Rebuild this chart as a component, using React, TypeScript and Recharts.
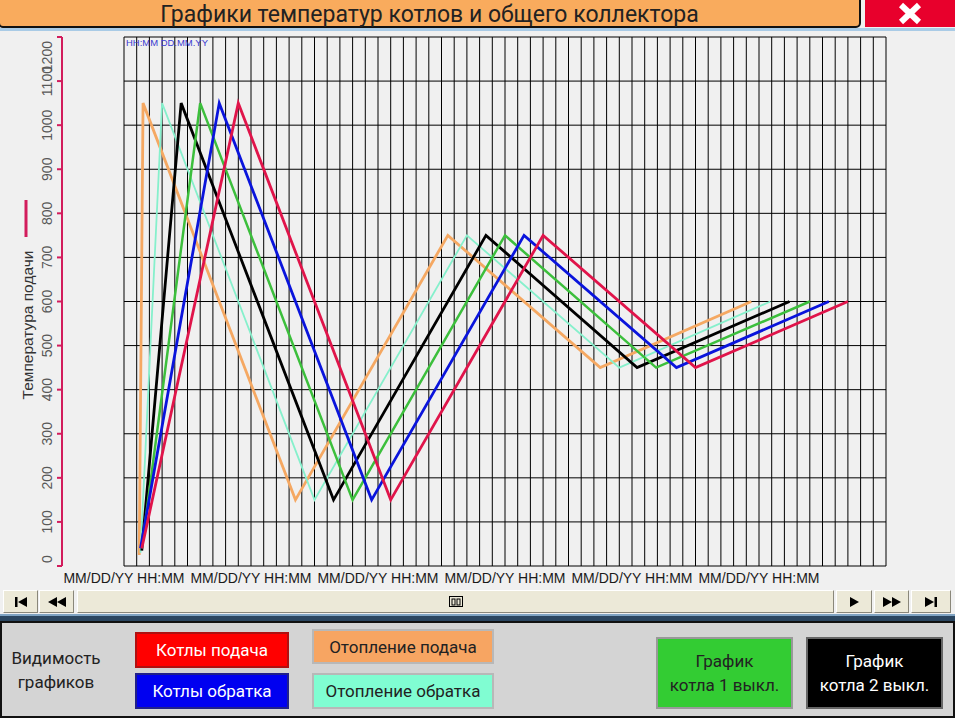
import React from "react";
import { CartesianGrid, Line, LineChart, XAxis, YAxis } from "recharts";

// y axis (temperature) and x axis (time, in grid divisions)
const yTicks = [0, 100, 200, 300, 400, 500, 600, 700, 800, 900, 1000, 1100, 1200];
const xLabelTicks = [0, 10, 20, 30, 40, 50];
const xLabel = "MM/DD/YY HH:MM";
const xGridTicks = Array.from({ length: 61 }, (_, i) => i);

// each trend: time stamps and values
const heatSupplyT = [1.2, 1.5, 13.5, 25.5, 37.5, 49.4];
const heatSupplyV = [25, 1050, 150, 750, 450, 600];
const heatReturnT = [1.3, 3.0, 15.0, 27.0, 39.0, 50.9];
const heatReturnV = [30, 1050, 150, 750, 450, 600];
const boiler2T = [1.4, 4.5, 16.5, 28.5, 40.4, 52.4];
const boiler2V = [35, 1050, 150, 750, 450, 600];
const boiler1T = [1.4, 6.0, 18.0, 30.0, 41.9, 54.0];
const boiler1V = [40, 1050, 150, 750, 450, 600];
const boilerReturnT = [1.3, 7.5, 19.5, 31.5, 43.5, 55.5];
const boilerReturnV = [40, 1050, 150, 750, 450, 600];
const boilerSupplyT = [1.4, 9.0, 21.0, 33.0, 45.0, 57.0];
const boilerSupplyV = [40, 1050, 150, 750, 450, 600];

const toPoints = (t: number[], v: number[]) => t.map((x, i) => ({ t: x, v: v[i] }));

const series = [
  { name: "heatSupply", data: toPoints(heatSupplyT, heatSupplyV), color: "#f5a862", width: 2.8 },
  { name: "heatReturn", data: toPoints(heatReturnT, heatReturnV), color: "#86f0cc", width: 1.8 },
  { name: "boiler2", data: toPoints(boiler2T, boiler2V), color: "#000000", width: 2.8 },
  { name: "boiler1", data: toPoints(boiler1T, boiler1V), color: "#3cbf3c", width: 2.5 },
  { name: "boilerReturn", data: toPoints(boilerReturnT, boilerReturnV), color: "#0a14dc", width: 2.8 },
  { name: "boilerSupply", data: toPoints(boilerSupplyT, boilerSupplyV), color: "#e0144a", width: 2.8 },
];

const CHART_W = 955;
const CHART_H = 590;
const TOP = 37;
const XAXIS_H = 24;
const PLOT_BOTTOM = CHART_H - XAXIS_H;
const PINK = "#d21c5c";
const FONT = "'Liberation Sans', Arial, sans-serif";
const UI_FONT = "Roboto, 'Noto Sans', sans-serif";

function renderYTick(p: any) {
  const { x, y, payload } = p;
  const value = payload.value;
  const ax = x - 62;
  const label = String(value);
  const half = label.length * 3.9;
  const cy = Math.min(Math.max(y, TOP + 4 + half), PLOT_BOTTOM - 3 - half);
  return (
    <g>
      {value === 0 && <line x1={ax} x2={ax} y1={y} y2={TOP} stroke={PINK} strokeWidth={2} />}
      <line x1={ax - 5} x2={ax} y1={y} y2={y} stroke={PINK} strokeWidth={2} />
      <text
        x={ax - 15}
        y={cy}
        transform={`rotate(-90 ${ax - 15} ${cy})`}
        textAnchor="middle"
        dominantBaseline="central"
        fontFamily={FONT}
        fontSize={14}
        fill="#585858"
      >
        {label}
      </text>
    </g>
  );
}

function renderXTick(p: any) {
  const { x, y, payload } = p;
  if (!xLabelTicks.includes(payload.value)) return <g />;
  return (
    <text x={x} y={y + 17} textAnchor="middle" fontFamily={FONT} fontSize={14} fill="#1a1a1a">
      {xLabel}
    </text>
  );
}

function Bevel({ left, width, children }: { left: number; width: number; children: React.ReactNode }) {
  return (
    <div
      style={{
        position: "absolute",
        left,
        top: 590,
        width,
        height: 23,
        boxSizing: "border-box",
        background: "#ece9d8",
        borderTop: "1px solid #fff",
        borderLeft: "1px solid #fff",
        borderRight: "1px solid #8a877a",
        borderBottom: "1px solid #8a877a",
        display: "flex",
        alignItems: "center",
        justifyContent: "center",
      }}
    >
      {children}
    </div>
  );
}

function PanelButton({
  left,
  top,
  width,
  height,
  bg,
  color,
  border,
  children,
}: {
  left: number;
  top: number;
  width: number;
  height: number;
  bg: string;
  color: string;
  border: string;
  children: React.ReactNode;
}) {
  return (
    <div
      style={{
        position: "absolute",
        left,
        top,
        width,
        height,
        boxSizing: "border-box",
        background: bg,
        color,
        border: `2px solid ${border}`,
        display: "flex",
        alignItems: "center",
        justifyContent: "center",
        textAlign: "center",
        fontFamily: UI_FONT,
        fontSize: 17,
        lineHeight: "24px",
      }}
    >
      {children}
    </div>
  );
}

export default function App() {
  return (
    <div style={{ position: "absolute", left: 0, top: 0, width: 955, height: 718, background: "#f0f0f0", overflow: "hidden" }}>
      <LineChart
        width={CHART_W}
        height={CHART_H}
        margin={{ top: TOP, right: 69, bottom: 0, left: 0 }}
        style={{ position: "absolute", left: 0, top: 0 }}
      >
        <CartesianGrid stroke="#000" strokeWidth={1} />
        <XAxis
          dataKey="t"
          type="number"
          domain={[0, 60]}
          ticks={xGridTicks}
          interval={0}
          height={XAXIS_H}
          axisLine={false}
          tickLine={false}
          tickSize={0}
          tickMargin={0}
          tick={renderXTick}
          allowDataOverflow
        />
        <YAxis
          type="number"
          domain={[0, 1200]}
          ticks={yTicks}
          interval={0}
          width={124}
          axisLine={false}
          tickLine={false}
          tickSize={0}
          tickMargin={0}
          tick={renderYTick}
          allowDataOverflow
        />
        {series.map((s) => (
          <Line
            key={s.name}
            data={s.data}
            dataKey="v"
            type="linear"
            stroke={s.color}
            strokeWidth={s.width}
            dot={false}
            activeDot={false}
            isAnimationActive={false}
          />
        ))}
      </LineChart>

      {/* decorations over the chart */}
      <svg width={955} height={590} style={{ position: "absolute", left: 0, top: 0, pointerEvents: "none" }}>
        <text x={126} y={46} fontFamily={FONT} fontSize={9} fill="#3a3ad0" textLength={82} lengthAdjust="spacingAndGlyphs">
          HH:MM DD.MM.YY
        </text>
        <line x1={26} x2={26} y1={200} y2={237} stroke={PINK} strokeWidth={3} />
        <text
          x={27}
          y={325}
          transform="rotate(-90 27 325)"
          textAnchor="middle"
          dominantBaseline="central"
          fontFamily={FONT}
          fontSize={15.5}
          fill="#333"
        >
          Температура подачи
        </text>
      </svg>

      {/* title bar */}
      <div
        style={{
          position: "absolute",
          left: -2,
          top: -2,
          width: 863,
          height: 30,
          boxSizing: "border-box",
          background: "#f9ab5d",
          border: "2px solid #111",
          borderRadius: "0 0 5px 5px",
          display: "flex",
          alignItems: "center",
          justifyContent: "center",
          fontFamily: UI_FONT,
          fontSize: 23,
          color: "#222",
          paddingTop: 2,
        }}
      >
        Графики температур котлов и общего коллектора
      </div>
      <div style={{ position: "absolute", left: 865, top: 0, width: 90, height: 27, background: "#e8002c" }}>
        <svg width={90} height={27}>
          <line x1={36} y1={5} x2={54} y2={22} stroke="#fff" strokeWidth={6} />
          <line x1={54} y1={5} x2={36} y2={22} stroke="#fff" strokeWidth={6} />
        </svg>
      </div>
      <div style={{ position: "absolute", left: 0, top: 28, width: 955, height: 3, background: "#a9cbe6" }} />

      {/* scroll row */}
      <Bevel left={3} width={35}>
        <svg width={14} height={12}>
          <rect x={1} y={1} width={2.5} height={10} fill="#000" />
          <polygon points="13,1 13,11 4,6" fill="#000" />
        </svg>
      </Bevel>
      <Bevel left={39} width={35}>
        <svg width={20} height={12}>
          <polygon points="10,1 10,11 1,6" fill="#000" />
          <polygon points="19,1 19,11 10,6" fill="#000" />
        </svg>
      </Bevel>
      <Bevel left={77} width={757}>
        <svg width={14} height={11}>
          <rect x={0.5} y={0.5} width={13} height={10} fill="none" stroke="#000" />
          <rect x={3} y={3} width={3} height={6} fill="none" stroke="#000" />
          <rect x={8} y={3} width={3} height={6} fill="none" stroke="#000" />
        </svg>
      </Bevel>
      <Bevel left={836} width={36}>
        <svg width={12} height={12}>
          <polygon points="2,1 2,11 11,6" fill="#000" />
        </svg>
      </Bevel>
      <Bevel left={874} width={35}>
        <svg width={20} height={12}>
          <polygon points="1,1 1,11 10,6" fill="#000" />
          <polygon points="10,1 10,11 19,6" fill="#000" />
        </svg>
      </Bevel>
      <Bevel left={911} width={40}>
        <svg width={14} height={12}>
          <polygon points="1,1 1,11 10,6" fill="#000" />
          <rect x={10.5} y={1} width={2.5} height={10} fill="#000" />
        </svg>
      </Bevel>

      {/* separator + bottom panel */}
      <div style={{ position: "absolute", left: 0, top: 614, width: 955, height: 2, background: "#7fa3c2" }} />
      <div style={{ position: "absolute", left: 0, top: 616, width: 955, height: 5, background: "#2b4660" }} />
      <div
        style={{
          position: "absolute",
          left: 0,
          top: 621,
          width: 955,
          height: 97,
          boxSizing: "border-box",
          background: "#d4d4d4",
          border: "2px solid #111",
        }}
      />
      <div
        style={{
          position: "absolute",
          left: 4,
          top: 646,
          width: 104,
          textAlign: "center",
          fontFamily: UI_FONT,
          fontSize: 17,
          lineHeight: "24px",
          color: "#222",
        }}
      >
        Видимость
        <br />
        графиков
      </div>
      <PanelButton left={135} top={632} width={154} height={36} bg="#ff0000" color="#fff" border="#b01010">
        Котлы подача
      </PanelButton>
      <PanelButton left={135} top={673} width={154} height={36} bg="#0000f0" color="#fff" border="#20208a">
        Котлы обратка
      </PanelButton>
      <PanelButton left={312} top={629} width={182} height={35} bg="#f7a562" color="#222" border="#b8b8b8">
        Отопление подача
      </PanelButton>
      <PanelButton left={312} top={673} width={182} height={36} bg="#80fdd2" color="#222" border="#b8b8b8">
        Отопление обратка
      </PanelButton>
      <PanelButton left={656} top={637} width={137} height={72} bg="#33cc33" color="#222" border="#999">
        График
        <br />
        котла 1 выкл.
      </PanelButton>
      <PanelButton left={806} top={637} width={137} height={72} bg="#000" color="#fff" border="#666">
        График
        <br />
        котла 2 выкл.
      </PanelButton>
    </div>
  );
}
